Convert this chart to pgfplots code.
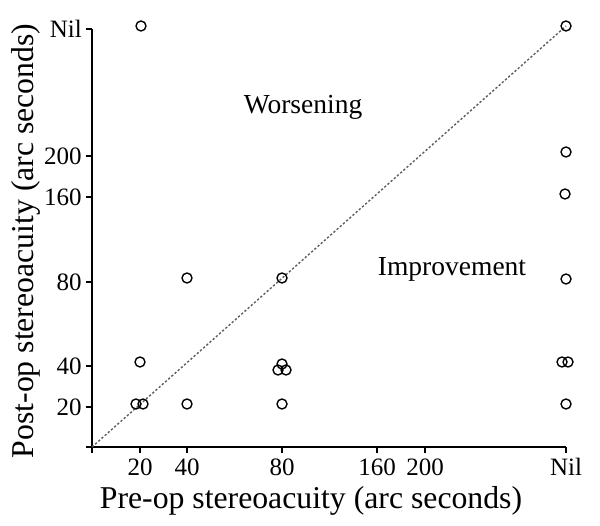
\documentclass[border=0pt]{standalone}
\usepackage{fontspec}
\setmainfont{Liberation Serif}
\usepackage{pgfplots}
\pgfplotsset{compat=1.18}
\begin{document}
\begin{tikzpicture}
\useasboundingbox (-36.8pt,-31.6pt) rectangle (203.2pt,178.8pt);
\begin{axis}[
  scale only axis, width=189.6pt, height=167.2pt,
  xmin=0, xmax=474, ymin=0, ymax=418,
  clip=false,
  axis x line*=bottom, axis y line*=left,
  axis line style={line width=0.8pt},
  tick align=outside, tick style={black, line width=0.7pt},
  major tick length=2.4pt,
  xtick={0,48,95,190,285,333,474},
  xticklabels={,20,40,80,160,200,Nil},
  ytick={0,40,81,165,250,291,418},
  yticklabels={,20,40,80,160,200,Nil},
  tick label style={font=\fontsize{10}{12}\selectfont},
  yticklabel style={inner xsep=1.5pt},
  xticklabel style={inner ysep=2pt},
  /pgf/number format/assume math mode=true,
  xlabel={Pre-op stereoacuity (arc seconds)},
  ylabel={Post-op stereoacuity (arc seconds)},
  label style={font=\fontsize{12.7}{15}\selectfont},
  xlabel style={at={(axis description cs:0.462,-0.13)}, anchor=center},
  ylabel style={at={(axis description cs:-0.139,0.493)}, anchor=center},
]
\addplot[black!65, line width=0.55pt, dash pattern=on 0.9pt off 0.8pt] coordinates {(0,0) (474,421)};
\addplot[only marks, mark=o, mark size=2pt, mark options={line width=0.55pt, black}] coordinates {
  (49,421) (474,421) (474,295) (473,253) (474,168) (470,85) (476,85) (474,43)
  (95,169) (190,169) (48,85) (44,43) (51,43) (95,43)
  (186,77) (190,83) (194,77) (190,43)
};
\node[font=\fontsize{11}{13}\selectfont] at (axis cs:211,340) {Worsening};
\node[font=\fontsize{11}{13}\selectfont] at (axis cs:360,178) {Improvement};
\end{axis}
\end{tikzpicture}
\end{document}
